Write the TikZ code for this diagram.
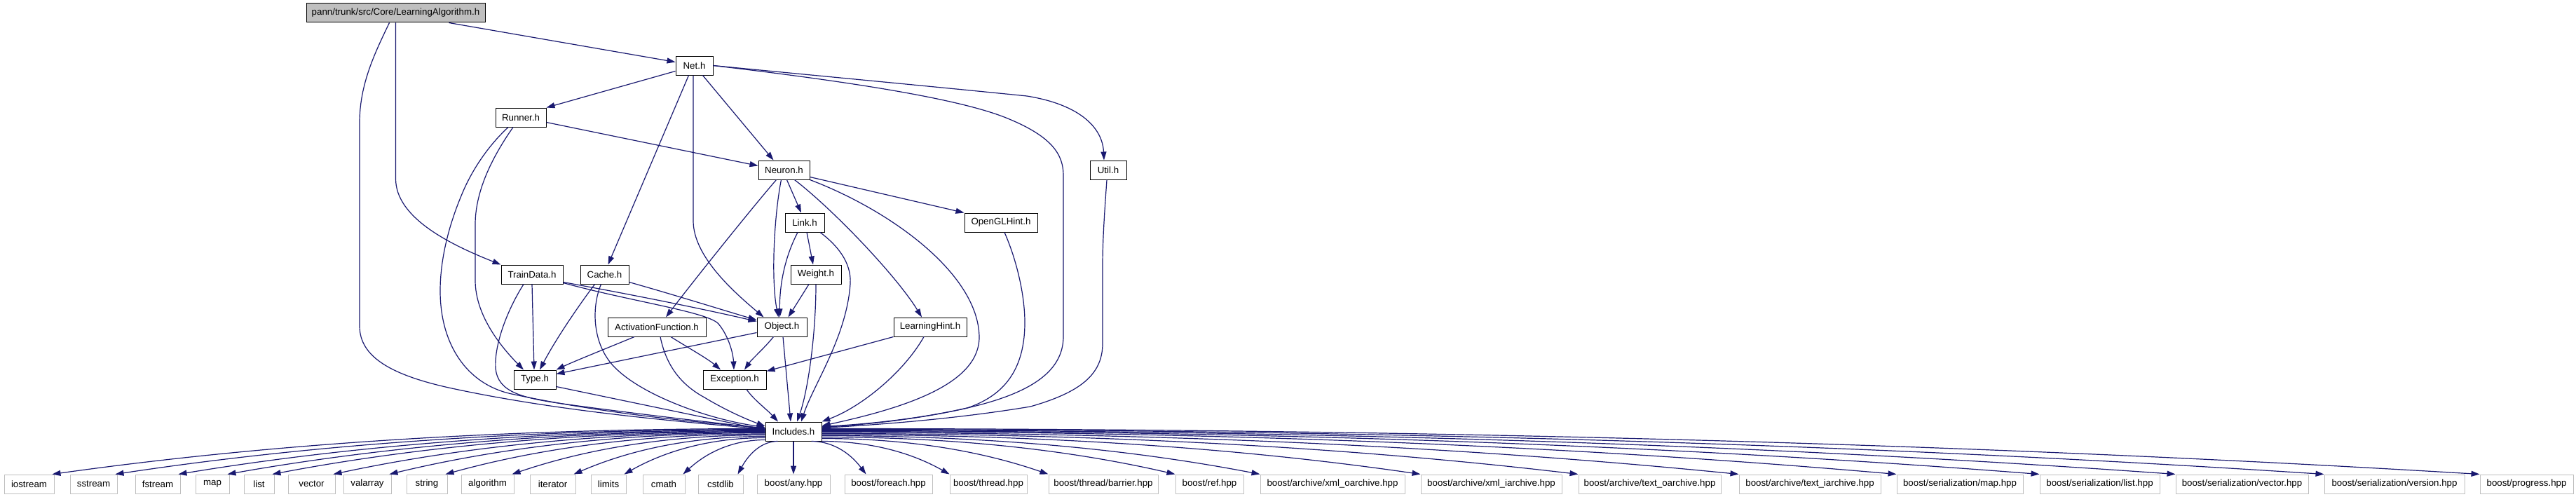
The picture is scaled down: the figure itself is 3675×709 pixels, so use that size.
\documentclass[tikz,border=0pt]{standalone}
\usepackage{fontspec}
\setmainfont{Liberation Sans}
\usetikzlibrary{arrows.meta,calc}
\definecolor{edgeblue}{HTML}{191970}
\definecolor{extgray}{HTML}{BFBFBF}
\newcommand{\dfont}{\fontsize{13.3pt}{16pt}\selectfont}
\newcommand{\incedge}[2]{\draw[edge] let \p1=(#1), \p2=(#2) in (\p1) .. controls ({\x1+(\x2-\x1)/3},\y1) and ({\x1+2*(\x2-\x1)/3},{0.73*\y1+0.27*\y2}) .. (\p2);}
\begin{document}
\begin{tikzpicture}[x=1pt,y=-1pt,
  box/.style={draw=black, line width=1pt, minimum height=27pt, inner sep=0pt, font=\dfont, text=black},
  ext/.style={draw=extgray, line width=1pt, minimum height=27pt, inner sep=0pt, font=\dfont, text=black},
  edge/.style={draw=edgeblue, line width=1.2pt, -{Triangle[length=12pt,width=8pt]}, color=edgeblue}]
\useasboundingbox (0,0) rectangle (3675,709);
\fill[white] (0,0) rectangle (3675,709);
% internal nodes
\node[box,fill=extgray,minimum width=255pt] (la) at (564.5,18.5) {pann/trunk/src/Core/LearningAlgorithm.h};
\node[box,minimum width=53pt] (net) at (990.5,93.5) {Net.h};
\node[box,minimum width=72pt] (runner) at (743,167.5) {Runner.h};
\node[box,minimum width=73pt] (neuron) at (1118.5,242.5) {Neuron.h};
\node[box,minimum width=52pt] (util) at (1581,242.5) {Util.h};
\node[box,minimum width=56pt] (link) at (1148,317.5) {Link.h};
\node[box,minimum width=104pt] (ogl) at (1428,317.5) {OpenGLHint.h};
\node[box,minimum width=88pt] (train) at (759,391.5) {TrainData.h};
\node[box,minimum width=69pt] (cache) at (862.5,391.5) {Cache.h};
\node[box,minimum width=72pt] (weight) at (1164,391.5) {Weight.h};
\node[box,minimum width=140pt] (act) at (937,466.5) {ActivationFunction.h};
\node[box,minimum width=71pt] (object) at (1115.5,466.5) {Object.h};
\node[box,minimum width=104pt] (lhint) at (1327,466.5) {LearningHint.h};
\node[box,minimum width=60pt] (type) at (763,541.5) {Type.h};
\node[box,minimum width=90pt] (exc) at (1048,541.5) {Exception.h};
\node[box,minimum width=80pt] (inc) at (1132,615.5) {Includes.h};
% external nodes
\node[ext,minimum width=71pt] (b1) at (41.5,690.5) {iostream};
\node[ext,minimum width=67pt] (b2) at (133.5,690.5) {sstream};
\node[ext,minimum width=64pt] (b3) at (225,690.5) {fstream};
\node[ext,minimum width=48pt] (b4) at (303,690.5) {map};
\node[ext,minimum width=43pt] (b5) at (369.5,690.5) {list};
\node[ext,minimum width=67pt] (b6) at (444.5,690.5) {vector};
\node[ext,minimum width=68pt] (b7) at (524,690.5) {valarray};
\node[ext,minimum width=58pt] (b8) at (609,690.5) {string};
\node[ext,minimum width=75pt] (b9) at (695.5,690.5) {algorithm};
\node[ext,minimum width=65pt] (b10) at (788.5,690.5) {iterator};
\node[ext,minimum width=50pt] (b11) at (868,690.5) {limits};
\node[ext,minimum width=60pt] (b12) at (947,690.5) {cmath};
\node[ext,minimum width=64pt] (b13) at (1028,690.5) {cstdlib};
\node[ext,minimum width=104pt] (b14) at (1132,690.5) {boost/any.hpp};
\node[ext,minimum width=125pt] (b15) at (1267.5,690.5) {boost/foreach.hpp};
\node[ext,minimum width=110pt] (b16) at (1410,690.5) {boost/thread.hpp};
\node[ext,minimum width=156pt] (b17) at (1574,690.5) {boost/thread/barrier.hpp};
\node[ext,minimum width=97pt] (b18) at (1725.5,690.5) {boost/ref.hpp};
\node[ext,minimum width=206pt] (b19) at (1901,690.5) {boost/archive/xml\_oarchive.hpp};
\node[ext,minimum width=201pt] (b20) at (2127.5,690.5) {boost/archive/xml\_iarchive.hpp};
\node[ext,minimum width=203pt] (b21) at (2353.5,690.5) {boost/archive/text\_oarchive.hpp};
\node[ext,minimum width=202pt] (b22) at (2582,690.5) {boost/archive/text\_iarchive.hpp};
\node[ext,minimum width=180pt] (b23) at (2796,690.5) {boost/serialization/map.hpp};
\node[ext,minimum width=171pt] (b24) at (2995.5,690.5) {boost/serialization/list.hpp};
\node[ext,minimum width=189pt] (b25) at (3198.5,690.5) {boost/serialization/vector.hpp};
\node[ext,minimum width=200pt] (b26) at (3416,690.5) {boost/serialization/version.hpp};
\node[ext,minimum width=133pt] (b27) at (3604.5,690.5) {boost/progress.hpp};
% edges from LearningAlgorithm.h
\draw[edge] ([xshift=76pt]la.south) -- ([yshift=5pt]net.west);
\draw[edge] (la.south) -- (564.5,255) .. controls (564.5,310) and (640,348) .. (train.north west);
\draw[edge] ([xshift=-9pt]la.south) .. controls (535,75) and (513,120) .. (513,175) -- (513,465) .. controls (513,510) and (560,535) .. (640,553) .. controls (800,588) and (980,602) .. ([yshift=3pt]inc.west);
% Net.h
\draw[edge] ([yshift=-8pt]net.west) -- (runner.north east);
\draw[edge] ([xshift=12pt]net.south) -- ([xshift=-15pt]neuron.north);
\draw[edge] ([xshift=-8pt]net.south) -- ([xshift=5pt]cache.north);
\draw[edge] ([xshift=-1.5pt]net.south) -- (989,315) .. controls (989,365) and (1045,415) .. ([xshift=10pt]object.north west);
\draw[edge] (net.east) .. controls (1166,108) and (1316,122) .. (1465,137) .. controls (1545,150) and (1573,185) .. ([xshift=-6pt]util.north);
\draw[edge] (net.east) .. controls (1200,115) and (1370,140) .. (1440,170) .. controls (1500,195) and (1517,220) .. (1517,250) -- (1517,480) .. controls (1517,530) and (1470,558) .. (1400,577) .. controls (1320,598) and (1230,606) .. ([yshift=6pt]inc.east);
% Runner.h
\draw[edge] ([yshift=-7pt]runner.east) -- ([yshift=6pt]neuron.west);
\draw[edge] ([xshift=-11pt]runner.south) .. controls (705,220) and (678,270) .. (678,320) -- (678,400) .. controls (678,450) and (715,495) .. ([xshift=-16pt]type.north);
\draw[edge] ([xshift=-18pt]runner.south) .. controls (705,200) and (680,230) .. (662,270) .. controls (640,320) and (628,370) .. (628,415) .. controls (628,490) and (665,548) .. (730,562) .. controls (860,590) and (1000,603) .. ([yshift=5pt]inc.west);
% TrainData.h
\draw[edge] (train.south) -- ([xshift=-1pt]type.north);
\draw[edge] ([xshift=-12pt]train.south) .. controls (725,440) and (705,490) .. (707,525) .. controls (710,560) and (745,568) .. (810,577) .. controls (920,592) and (1020,603) .. ([yshift=4pt]inc.west);
\draw[edge] ([yshift=-11pt]train.east) .. controls (900,420) and (1000,440) .. ([yshift=8pt]object.west);
\draw[edge] ([yshift=-12pt]train.east) .. controls (900,430) and (1010,445) .. (1025,462) .. controls (1040,480) and (1046,505) .. ([xshift=-1pt]exc.north);
% Cache.h
\draw[edge] ([xshift=-14pt]cache.south) .. controls (830,430) and (795,480) .. ([xshift=7pt]type.north);
\draw[edge] ([xshift=-5pt]cache.south) .. controls (843,440) and (845,495) .. (880,527) .. controls (920,565) and (1010,598) .. ([yshift=6pt]inc.west);
\draw[edge] ([yshift=-11pt]cache.east) .. controls (960,420) and (1040,445) .. ([yshift=10pt]object.west);
% ActivationFunction.h
\draw[edge] ([xshift=-32pt]act.south) .. controls (870,495) and (820,515) .. (type.north east);
\draw[edge] ([xshift=20pt]act.south) .. controls (980,495) and (1010,512) .. ([xshift=-20pt]exc.north);
\draw[edge] ([xshift=5pt]act.south) .. controls (950,520) and (970,548) .. (1005,567) .. controls (1040,588) and (1070,600) .. ([yshift=7.5pt]inc.west);
% Neuron.h
\draw[edge] ([xshift=-11pt]neuron.south) .. controls (1070,300) and (990,400) .. ([xshift=13pt]act.north);
\draw[edge] ([xshift=-4pt]neuron.south) .. controls (1104,310) and (1100,400) .. ([xshift=-5pt]object.north);
\draw[edge] ([xshift=4pt]neuron.south) -- ([xshift=-5pt]link.north);
\draw[edge] ([xshift=15pt]neuron.south) .. controls (1190,300) and (1280,395) .. ([xshift=-12pt]lhint.north);
\draw[edge] (neuron.south east) .. controls (1270,300) and (1395,390) .. (1397,480) .. controls (1398,545) and (1300,580) .. ([yshift=8pt]inc.east);
\draw[edge] ([yshift=-10pt]neuron.east) -- (ogl.north west);
% Link.h
\draw[edge] ([xshift=-10pt]link.south) .. controls (1118,370) and (1112,410) .. ([xshift=-3pt]object.north);
\draw[edge] ([xshift=3pt]link.south) -- ([xshift=-4pt]weight.north);
\draw[edge] ([xshift=22pt]link.south) .. controls (1195,350) and (1215,375) .. (1213,405) .. controls (1208,480) and (1160,550) .. ([xshift=11pt]inc.north);
% Weight.h
\draw[edge] ([xshift=-10pt]weight.south) -- ([xshift=9pt]object.north);
\draw[edge] (weight.south) .. controls (1164,480) and (1152,560) .. ([xshift=5pt]inc.north);
% Object.h
\draw[edge] ([yshift=-8pt]object.west) -- ([yshift=8pt]type.east);
\draw[edge] ([xshift=-12pt]object.south) .. controls (1090,497) and (1072,513) .. ([xshift=14pt]exc.north);
\draw[edge] ([xshift=1.5pt]object.south) -- ([xshift=-4pt]inc.north);
% LearningHint.h
\draw[edge] (lhint.south west) -- ([yshift=-2pt]exc.north east);
\draw[edge] ([xshift=-9pt]lhint.south) .. controls (1290,530) and (1230,580) .. (inc.north east);
% Type.h, Exception.h
\draw[edge] ([yshift=-10pt]type.east) -- ([yshift=2pt]inc.west);
\draw[edge] ([xshift=17pt]exc.south) .. controls (1075,570) and (1095,585) .. ([xshift=-22pt]inc.north);
% OpenGLHint.h, Util.h
\draw[edge] ([xshift=5pt]ogl.south) .. controls (1450,370) and (1462,420) .. (1462,460) .. controls (1462,530) and (1430,565) .. (1380,582) .. controls (1300,600) and (1220,606) .. ([yshift=7pt]inc.east);
\draw[edge] ([xshift=-2pt]util.south) .. controls (1576,300) and (1573,340) .. (1573,380) -- (1573,490) .. controls (1573,535) and (1540,560) .. (1470,580) .. controls (1350,600) and (1230,607) .. ([yshift=5pt]inc.east);
% Includes.h fan
\incedge{[yshift=4pt]inc.west}{[xshift=-3pt]b1.north east}
\incedge{[yshift=3pt]inc.west}{[xshift=-3pt]b2.north east}
\incedge{[yshift=2pt]inc.west}{[xshift=-3pt]b3.north east}
\incedge{[yshift=1pt]inc.west}{[xshift=-3pt]b4.north east}
\incedge{inc.west}{[xshift=-3pt]b5.north east}
\incedge{[yshift=-1pt]inc.west}{[xshift=-3pt]b6.north east}
\incedge{[yshift=-2pt]inc.west}{[xshift=-3pt]b7.north east}
\incedge{[yshift=-3.5pt]inc.west}{[xshift=-3pt]b8.north east}
\incedge{[yshift=-5pt]inc.west}{[xshift=-3pt]b9.north east}
\incedge{[yshift=-7pt]inc.west}{[xshift=-3pt]b10.north east}
\incedge{[yshift=-9pt]inc.west}{[xshift=-3pt]b11.north east}
\incedge{[yshift=-12pt]inc.west}{[xshift=-3pt]b12.north east}
\incedge{[xshift=18pt]inc.south west}{[xshift=-8pt]b13.north east}
\draw[edge] (inc.south) -- (b14.north);
\incedge{[xshift=-15pt]inc.south east}{[xshift=31pt]b15.north west}
\incedge{inc.south east}{b16.north west}
\incedge{[yshift=-10pt]inc.east}{b17.north west}
\incedge{[yshift=-8pt]inc.east}{b18.north west}
\incedge{[yshift=-6pt]inc.east}{b19.north west}
\incedge{[yshift=-4.5pt]inc.east}{b20.north west}
\incedge{[yshift=-3pt]inc.east}{b21.north west}
\incedge{[yshift=-1.5pt]inc.east}{b22.north west}
\incedge{inc.east}{b23.north west}
\incedge{[yshift=1pt]inc.east}{b24.north west}
\incedge{[yshift=2pt]inc.east}{b25.north west}
\incedge{[yshift=3pt]inc.east}{b26.north west}
\incedge{[yshift=4pt]inc.east}{b27.north west}
\end{tikzpicture}
\end{document}
